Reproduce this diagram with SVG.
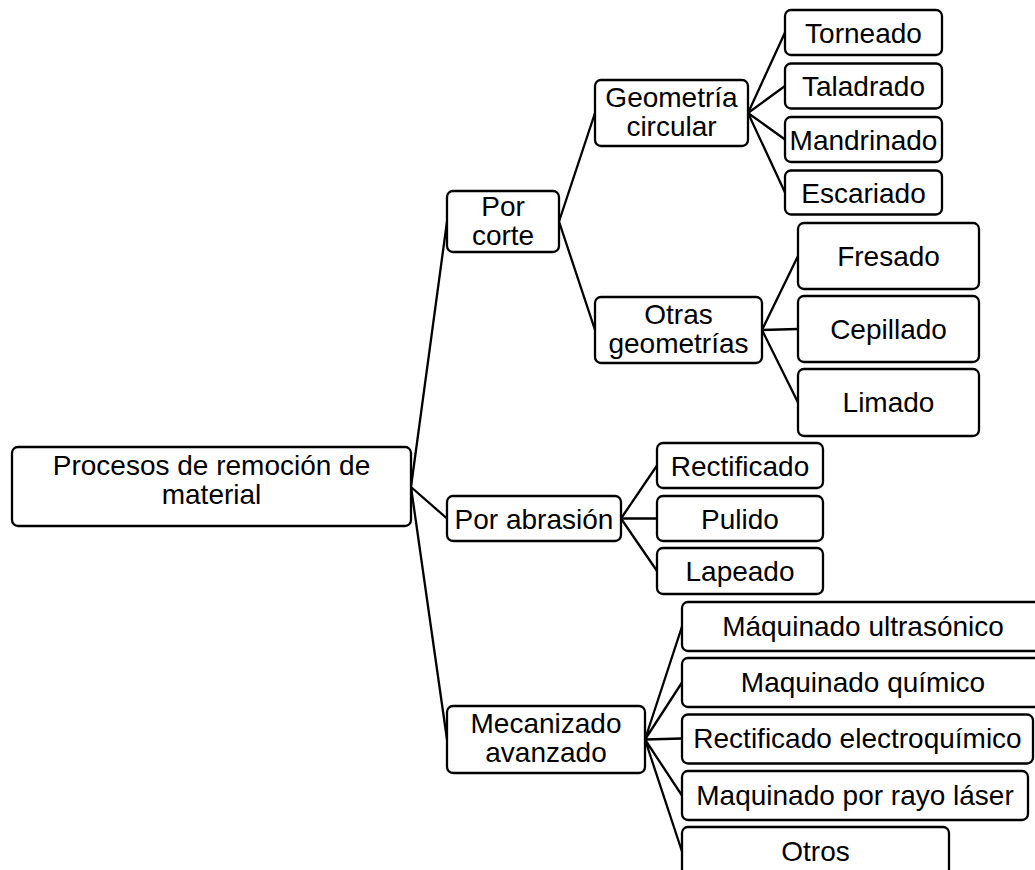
<svg xmlns="http://www.w3.org/2000/svg" width="1035" height="870" viewBox="0 0 1035 870">
<style>
.box{fill:#fff;stroke:#000;stroke-width:2.3}
.t{font-family:"Liberation Sans",Arial,sans-serif;font-size:28px;fill:#000;text-anchor:middle}
.c{stroke:#000;stroke-width:2.3;fill:none}
</style>
<rect width="1035" height="870" fill="#fff"/>
<g id="connectors">
<path class="c" d="M411,487L447,221.5M411,487L447,518.5M411,487L447,739.5"/>
<path class="c" d="M559,221.5L595,113M559,221.5L595,330"/>
<path class="c" d="M748,113L785,32.5M748,113L785,86M748,113L785,139.5M748,113L785,192.5"/>
<path class="c" d="M762,330L798,256M762,330L798,329M762,330L798,402.5"/>
<path class="c" d="M621,518.5L657,465.5M621,518.5L657,518.5M621,518.5L657,571"/>
<path class="c" d="M645,739.5L682,626.5M645,739.5L682,682.5M645,739.5L682,738.5M645,739.5L682,795.5M645,739.5L682,851.5"/>
</g>
<g id="root"><rect class="box" x="12" y="447" width="399" height="79" rx="6"/><text class="t" x="211.5" y="475">Procesos de remoción de</text><text class="t" x="211.5" y="504">material</text></g>
<g id="por-corte"><rect class="box" x="447" y="191" width="112" height="61" rx="6"/><text class="t" x="503" y="215.5">Por</text><text class="t" x="503" y="244.5">corte</text></g>
<g id="geometria-circular"><rect class="box" x="595" y="80" width="153" height="66" rx="6"/><text class="t" x="671.5" y="107">Geometría</text><text class="t" x="671.5" y="136">circular</text></g>
<g id="torneado"><rect class="box" x="785" y="10" width="157" height="45" rx="6"/><text class="t" x="863.5" y="42.5">Torneado</text></g>
<g id="taladrado"><rect class="box" x="785" y="63.5" width="157" height="45" rx="6"/><text class="t" x="863.5" y="96">Taladrado</text></g>
<g id="mandrinado"><rect class="box" x="785" y="117" width="157" height="45" rx="6"/><text class="t" x="863.5" y="149.5">Mandrinado</text></g>
<g id="escariado"><rect class="box" x="785" y="170.5" width="157" height="44" rx="6"/><text class="t" x="863.5" y="202.5">Escariado</text></g>
<g id="otras-geometrias"><rect class="box" x="595" y="297" width="167" height="66" rx="6"/><text class="t" x="678.5" y="323.5">Otras</text><text class="t" x="678.5" y="352.5">geometrías</text></g>
<g id="fresado"><rect class="box" x="798" y="223" width="181" height="66" rx="6"/><text class="t" x="888.5" y="265.5">Fresado</text></g>
<g id="cepillado"><rect class="box" x="798" y="296" width="181" height="66" rx="6"/><text class="t" x="888.5" y="338.5">Cepillado</text></g>
<g id="limado"><rect class="box" x="798" y="369" width="181" height="67" rx="6"/><text class="t" x="888.5" y="412">Limado</text></g>
<g id="por-abrasion"><rect class="box" x="447" y="496" width="174" height="45" rx="6"/><text class="t" x="534" y="528.5">Por abrasión</text></g>
<g id="rectificado"><rect class="box" x="657" y="443" width="166" height="45" rx="6"/><text class="t" x="740" y="475.5">Rectificado</text></g>
<g id="pulido"><rect class="box" x="657" y="496" width="166" height="45" rx="6"/><text class="t" x="740" y="528.5">Pulido</text></g>
<g id="lapeado"><rect class="box" x="657" y="548" width="166" height="46" rx="6"/><text class="t" x="740" y="581">Lapeado</text></g>
<g id="mecanizado-avanzado"><rect class="box" x="447" y="706" width="198" height="67" rx="6"/><text class="t" x="546" y="733">Mecanizado</text><text class="t" x="546" y="762">avanzado</text></g>
<g id="ultrasonico"><rect class="box" x="682" y="602" width="362" height="49" rx="6"/><text class="t" x="863" y="635.5">Máquinado ultrasónico</text></g>
<g id="quimico"><rect class="box" x="682" y="658" width="362" height="49" rx="6"/><text class="t" x="863" y="691.5">Maquinado químico</text></g>
<g id="electroquimico"><rect class="box" x="682" y="714.5" width="351" height="49" rx="6"/><text class="t" x="857.5" y="748">Rectificado electroquímico</text></g>
<g id="laser"><rect class="box" x="682" y="771" width="346" height="49" rx="6"/><text class="t" x="855" y="804.5">Maquinado por rayo láser</text></g>
<g id="otros"><rect class="box" x="682" y="827" width="267" height="49" rx="6"/><text class="t" x="815.5" y="860.5">Otros</text></g>
</svg>
